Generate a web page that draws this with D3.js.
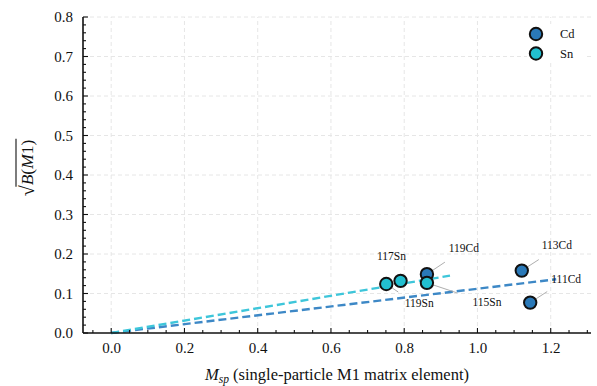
<!DOCTYPE html>
<html>
<head>
<meta charset="utf-8">
<script src="https://cdn.jsdelivr.net/npm/d3@7"></script>
<style>
  html, body { margin: 0; padding: 0; background: #fff; }
  svg { display: block; }
  svg text { font-family: "Liberation Serif", "Times New Roman", Times, serif !important; fill: #111; }
</style>
</head>
<body>
<svg id="chart" width="597" height="386"></svg>
<script>
// ---------------- data ----------------
const cdNames = ["111Cd", "113Cd", "119Cd"];
const cdMsp   = [1.144, 1.121, 0.862];
const cdSqrtB = [0.077, 0.158, 0.149];

const snNames = ["119Sn", "117Sn", "115Sn"];
const snMsp   = [0.751, 0.790, 0.862];
const snSqrtB = [0.124, 0.132, 0.127];

// fitted lines through the origin: slope and x extent
const fitSeries = ["Cd", "Sn"];
const fitSlope  = [0.112, 0.157];
const fitXmax   = [1.215, 0.925];

const xTickValues = [0.0, 0.2, 0.4, 0.6, 0.8, 1.0, 1.2];
const yTickValues = [0.0, 0.1, 0.2, 0.3, 0.4, 0.5, 0.6, 0.7, 0.8];

// ---------------- layout / style ----------------
const FONT = "'Liberation Serif', 'Times New Roman', Times, serif";
const colors = { Cd: "#2a79b8", Sn: "#22bfd0" };
const lineColors = { Cd: "#3d88c6", Sn: "#3ec6da" };
// label offsets (px) from marker centre, and leader end offsets (px)
const labelLayout = {
  "111Cd": { dx: 36, dy: -24, lx: 17, ly: -11 },
  "113Cd": { dx: 35, dy: -26, lx: 17, ly: -11 },
  "119Cd": { dx: 37, dy: -26, lx: 18, ly: -12 },
  "119Sn": { dx: 33, dy: 19,  lx: 12, ly: 8 },
  "117Sn": { dx: -9, dy: -25, lx: -1, ly: -5 },
  "115Sn": { dx: 60, dy: 19,  lx: 30, ly: 10 }
};

const svg = d3.select("#chart").style("font-family", FONT);
const x = d3.scaleLinear().domain([-0.077, 1.31]).range([83, 591]);
const y = d3.scaleLinear().domain([0, 0.8]).range([333, 17]);

// grid
const grid = svg.append("g");
grid.selectAll("line.gx").data(xTickValues).join("line")
  .attr("x1", d => x(d)).attr("x2", d => x(d))
  .attr("y1", y(0)).attr("y2", y(0.8))
  .attr("stroke", "#e6e6e6").attr("stroke-width", 1).attr("stroke-dasharray", "4,3");
grid.selectAll("line.gy").data(yTickValues.slice(1)).join("line")
  .attr("x1", x.range()[0]).attr("x2", x.range()[1])
  .attr("y1", d => y(d)).attr("y2", d => y(d))
  .attr("stroke", "#e6e6e6").attr("stroke-width", 1).attr("stroke-dasharray", "4,3");

// fit lines
const fitData = fitSeries.map((s, i) => ({ s, pts: [[0, 0], [fitXmax[i], fitSlope[i] * fitXmax[i]]] }));
const lineGen = d3.line().x(d => x(d[0])).y(d => y(d[1]));
svg.append("g").selectAll("path").data(fitData).join("path")
  .attr("d", d => lineGen(d.pts))
  .attr("fill", "none")
  .attr("stroke", d => lineColors[d.s])
  .attr("stroke-width", 2.4)
  .attr("stroke-dasharray", "8,4");

// points
const points = [];
cdNames.forEach((n, i) => points.push({ n, s: "Cd", mx: cdMsp[i], v: cdSqrtB[i] }));
snNames.forEach((n, i) => points.push({ n, s: "Sn", mx: snMsp[i], v: snSqrtB[i] }));

// leaders
svg.append("g").selectAll("line").data(points).join("line")
  .attr("x1", d => x(d.mx)).attr("y1", d => y(d.v))
  .attr("x2", d => x(d.mx) + labelLayout[d.n].lx)
  .attr("y2", d => y(d.v) + labelLayout[d.n].ly)
  .attr("stroke", "#999").attr("stroke-width", 0.8);

svg.append("g").selectAll("circle").data(points).join("circle")
  .attr("cx", d => x(d.mx)).attr("cy", d => y(d.v))
  .attr("r", 6.2)
  .attr("fill", d => colors[d.s])
  .attr("stroke", "#111").attr("stroke-width", 2);

svg.append("g").selectAll("text").data(points).join("text")
  .attr("x", d => x(d.mx) + labelLayout[d.n].dx)
  .attr("y", d => y(d.v) + labelLayout[d.n].dy)
  .attr("text-anchor", "middle")
  .attr("dominant-baseline", "central")
  .attr("font-size", 11.5)
  .style("font-family", FONT)
  .text(d => d.n);

// axes
const xAxis = d3.axisBottom(x).tickValues(xTickValues).tickFormat(d3.format(".1f")).tickSize(0).tickPadding(9);
const yAxis = d3.axisLeft(y).tickValues(yTickValues).tickFormat(d3.format(".1f")).tickSize(0).tickPadding(10);

const gx = svg.append("g").attr("transform", `translate(0,${y(0)})`).call(xAxis).attr("font-family", null);
gx.select(".domain").remove();
gx.selectAll("text").attr("font-size", 15).style("font-family", FONT).attr("fill", "#111");

const gy = svg.append("g").attr("transform", `translate(${x.range()[0]},0)`).call(yAxis).attr("font-family", null);
gy.select(".domain").remove();
gy.selectAll("text").attr("font-size", 15).style("font-family", FONT).attr("fill", "#111");

// inward ticks
const xMinor = d3.range(-0.05, 1.31, 0.05).filter(v => Math.abs(Math.round(v * 5) - v * 5) > 1e-6);
const yMinor = d3.range(0.02, 0.8, 0.02).filter(v => Math.abs(Math.round(v * 10) - v * 10) > 1e-6);
const ticks = svg.append("g").attr("stroke", "#111").attr("stroke-width", 1.1);
ticks.selectAll("line.xM").data(xTickValues).join("line")
  .attr("x1", d => x(d)).attr("x2", d => x(d)).attr("y1", y(0)).attr("y2", y(0) - 5);
ticks.selectAll("line.xm").data(xMinor).join("line")
  .attr("x1", d => x(d)).attr("x2", d => x(d)).attr("y1", y(0)).attr("y2", y(0) - 3);
ticks.selectAll("line.yM").data(yTickValues).join("line")
  .attr("x1", x.range()[0]).attr("x2", x.range()[0] + 5).attr("y1", d => y(d)).attr("y2", d => y(d));
ticks.selectAll("line.ym").data(yMinor).join("line")
  .attr("x1", x.range()[0]).attr("x2", x.range()[0] + 3).attr("y1", d => y(d)).attr("y2", d => y(d));

// spines
svg.append("line").attr("x1", x.range()[0]).attr("x2", x.range()[1]).attr("y1", y(0)).attr("y2", y(0))
  .attr("stroke", "#111").attr("stroke-width", 1.6);
svg.append("line").attr("x1", x.range()[0]).attr("x2", x.range()[0]).attr("y1", y(0)).attr("y2", y(0.8))
  .attr("stroke", "#111").attr("stroke-width", 1.6);

// x label
const xl = svg.append("text").attr("x", 337).attr("y", 380).attr("text-anchor", "middle")
  .attr("font-size", 16.5).style("font-family", FONT);
xl.append("tspan").attr("font-style", "italic").text("M");
xl.append("tspan").attr("font-style", "italic").attr("font-size", 11.5).attr("dy", 3).text("sp");
xl.append("tspan").attr("dy", -3).text(" (single-particle M1 matrix element)");

// y label: sqrt(B(M1)) with overline
const yl = svg.append("g").attr("transform", "translate(33,168) rotate(-90)");
const rad = yl.append("text").attr("font-size", 20).style("font-family", FONT).attr("y", 1).text("√");
const body = yl.append("text").attr("font-size", 17.5).style("font-family", FONT).attr("y", 0);
body.append("tspan").attr("font-style", "italic").text("B");
body.append("tspan").text("(");
body.append("tspan").attr("font-style", "italic").text("M");
body.append("tspan").text("1)");
const rw = rad.node().getComputedTextLength();
const bw = body.node().getComputedTextLength();
const total = rw + bw;
rad.attr("x", -total / 2);
body.attr("x", -total / 2 + rw);
yl.append("line").attr("x1", -total / 2 + rw - 1.5).attr("x2", total / 2 + 1)
  .attr("y1", -17).attr("y2", -17).attr("stroke", "#111").attr("stroke-width", 1.1);

// legend
const leg = svg.append("g");
leg.append("rect").attr("x", 527).attr("y", 24).attr("width", 58).attr("height", 39).attr("fill", "#fff");
fitSeries.forEach((s, i) => {
  const cy = 34 + i * 19.5;
  leg.append("circle").attr("cx", 536).attr("cy", cy).attr("r", 6.2)
    .attr("fill", colors[s]).attr("stroke", "#111").attr("stroke-width", 2);
  leg.append("text").attr("x", 560).attr("y", cy).attr("dominant-baseline", "central")
    .attr("font-size", 12.5).style("font-family", FONT).text(s);
});
</script>
</body>
</html>
